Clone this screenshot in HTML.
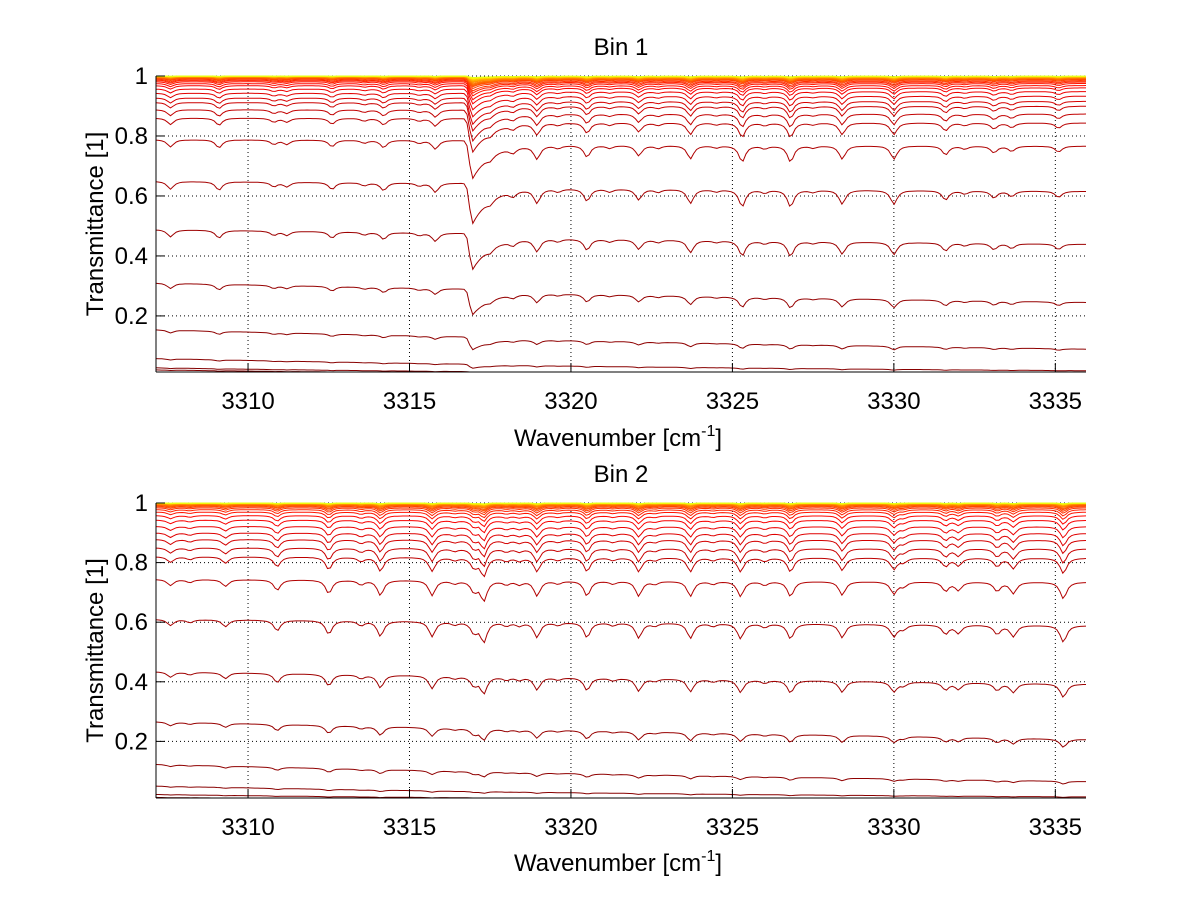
<!DOCTYPE html>
<html><head><meta charset="utf-8"><style>
html,body{margin:0;padding:0;background:#fff;}
svg{display:block;font-family:"Liberation Sans",Arial,sans-serif;}
</style></head><body>
<svg id="chart" width="1200" height="901" viewBox="0 0 1200 901" xmlns="http://www.w3.org/2000/svg">
<rect width="1200" height="901" fill="#fff"/>
</svg>
<script>
// ---- data ----
const xTicks = [3310, 3315, 3320, 3325, 3330, 3335];
const yTicks = [0.2, 0.4, 0.6, 0.8, 1];
const yTickLabels = ["0.2", "0.4", "0.6", "0.8", "1"];
const titles = ["Bin 1", "Bin 2"];
// left-edge transmittance level of each curve (lowest first)
const bin1Levels = [0.02, 0.027, 0.058, 0.154, 0.31, 0.488, 0.649, 0.788, 0.86, 0.888, 0.912, 0.927, 0.943, 0.957, 0.968, 0.975, 0.981, 0.985, 0.988, 0.991, 0.993, 0.994, 0.995, 0.996, 0.997, 0.9975, 0.998, 0.9985, 0.999, 0.9992, 0.9994, 0.9996, 0.9997, 0.9998];
const bin2Levels = [0.012, 0.022, 0.05, 0.123, 0.266, 0.434, 0.61, 0.744, 0.82, 0.85, 0.878, 0.9, 0.922, 0.943, 0.958, 0.97, 0.978, 0.984, 0.988, 0.991, 0.993, 0.995, 0.996, 0.997, 0.998, 0.9985, 0.999, 0.9992, 0.9994, 0.9996, 0.9997, 0.9998];
// absorption line centres and relative strengths
const bin1LinePos = [3307.6, 3309.1, 3310.8, 3311.2, 3312.6, 3313.6, 3314.2, 3315.3, 3315.8, 3317.5, 3318.2, 3318.95, 3319.6, 3320.5, 3321.2, 3322.1, 3322.7, 3323.7, 3324.5, 3325.3, 3326.0, 3326.8, 3327.5, 3328.4, 3330.0, 3331.6, 3332.2, 3333.1, 3333.65, 3335.1];
const bin1LineStr = [0.5, 0.55, 0.3, 0.3, 0.45, 0.2, 0.5, 0.2, 0.6, 0.3, 0.35, 0.9, 0.2, 0.8, 0.2, 0.7, 0.2, 0.9, 0.15, 1.1, 0.2, 1.1, 0.15, 0.9, 0.9, 0.6, 0.2, 0.45, 0.35, 0.4];
const bin1BroadPos = [3316.95];
const bin1BroadStr = [2.6];
const bin2LinePos = [3307.6, 3308.2, 3309.3, 3310.9, 3312.5, 3313.5, 3314.1, 3315.7, 3316.4, 3317.0, 3317.3, 3318.0, 3318.4, 3318.95, 3319.6, 3320.5, 3321.3, 3322.1, 3322.6, 3323.7, 3324.4, 3325.25, 3326.0, 3326.8, 3328.4, 3330.0, 3330.3, 3331.6, 3332.0, 3333.2, 3333.7, 3335.25];
const bin2LineStr = [0.4, 0.2, 0.45, 0.7, 0.9, 0.3, 1.0, 1.0, 0.2, 0.7, 1.3, 0.25, 0.25, 1.0, 0.2, 1.0, 0.2, 1.0, 0.2, 1.0, 0.2, 1.0, 0.25, 1.0, 0.9, 0.8, 0.3, 0.6, 0.55, 0.6, 0.75, 1.1];
const bin2BroadPos = [];
const bin2BroadStr = [];

// ---- layout ----
const NS = "http://www.w3.org/2000/svg";
const svg = document.getElementById("chart");
const X0 = 3307.15, X1 = 3335.95;
const panels = [
  {top: 76, bottom: 372, ymin: 0.013, levels: bin1Levels, pos: bin1LinePos, str: bin1LineStr, bpos: bin1BroadPos, bstr: bin1BroadStr, tickY: 409, xlabY: 446, titleY: 55},
  {top: 503, bottom: 798, ymin: 0.01, levels: bin2Levels, pos: bin2LinePos, str: bin2LineStr, bpos: bin2BroadPos, bstr: bin2BroadStr, tickY: 835, xlabY: 871, titleY: 482}
];
const L = 156, R = 1086;
const FS = 24;
function xs(v){ return L + (v - X0) / (X1 - X0) * (R - L); }
function mk(tag, attrs, parent){
  const e = document.createElementNS(NS, tag);
  for (const k in attrs) e.setAttribute(k, attrs[k]);
  (parent || svg).appendChild(e);
  return e;
}
function jet(v){
  const c = t => Math.max(0, Math.min(1, t));
  const r = c(1.5 - Math.abs(4*v - 3)), g = c(1.5 - Math.abs(4*v - 2)), b = c(1.5 - Math.abs(4*v - 1));
  return "rgb(" + Math.round(r*255) + "," + Math.round(g*255) + "," + Math.round(b*255) + ")";
}

panels.forEach((p, pi) => {
  const ys = v => p.top + (1 - v) / (1 - p.ymin) * (p.bottom - p.top);
  const g = mk("g", {});
  
  

  xTicks.forEach(t => {
    const l = mk("line", {x1: xs(t), x2: xs(t), y1: p.top, y2: p.bottom, stroke: "#000", "stroke-width": 1, "stroke-dasharray": "1 3"}, g);
    
    
  });
  yTicks.forEach(t => {
    const l = mk("line", {x1: L, x2: R, y1: ys(t), y2: ys(t), stroke: "#000", "stroke-width": 1, "stroke-dasharray": "1 3"}, g);
    
    
  });

  const N = p.levels.length;
  const cg = mk("g", {fill: "none", "stroke-width": 1, "stroke-linejoin": "miter"}, g);
  
  
  p.levels.forEach((L0, i) => {
    let d = "";
    for (let x = X0; x <= X1 + 1e-9; x += 0.09) {
      const lnL = Math.log(L0);
      const cont = Math.pow(L0, 1 + 0.005 * (-lnL) * (x - X0));
      let S = 0;
      for (let k = 0; k < p.pos.length; k++) {
        const dd = (x - p.pos[k]) / 0.12;
        S += p.str[k] / (1 + dd*dd);
      }
      for (let k = 0; k < p.bpos.length; k++) {
        const dx = x - p.bpos[k];
        S += p.bstr[k] * (dx < 0 ? Math.exp(-Math.pow(-dx/0.12, 2)) : (0.12 + 0.88*Math.exp(-dx/0.55)) );
      }
      const A = 0.135 * Math.sqrt(1 - cont);
      let T = cont * (1 - Math.min(0.9, A * S));
      T = Math.max(p.ymin, Math.min(1, T));
      d += (d ? "L" : "M") + xs(x).toFixed(1) + "," + ys(T).toFixed(1);
    }
    const col = jet(1 - 0.4 * Math.pow(i / (N - 1), 1.4));
    const path = mk("path", {d: d, stroke: col}, cg);
    
    
  });

  const ax = mk("line", {x1: L, x2: R, y1: p.bottom, y2: p.bottom, stroke: "#000", "stroke-width": 1}, g);
  
  
  const ay = mk("line", {x1: L, x2: L, y1: p.top, y2: p.bottom, stroke: "#000", "stroke-width": 1}, g);
  
  

  xTicks.forEach(t => {
    const tk = mk("line", {x1: xs(t), x2: xs(t), y1: p.bottom, y2: p.bottom - 9, stroke: "#000"}, g);
    
    
    const tx = mk("text", {x: xs(t), y: p.tickY, "text-anchor": "middle", "font-size": FS}, g);
    tx.textContent = String(t);
    
    
  });
  yTicks.forEach((t, k) => {
    const tk = mk("line", {x1: L, x2: L + 9, y1: ys(t), y2: ys(t), stroke: "#000"}, g);
    
    
    const tx = mk("text", {x: 148, y: ys(t) + 8, "text-anchor": "end", "font-size": FS}, g);
    tx.textContent = yTickLabels[k];
    
    
  });

  const title = mk("text", {x: 621, y: p.titleY, "text-anchor": "middle", "font-size": FS}, g);
  title.textContent = titles[pi];
  
  

  const xl = mk("text", {x: 618, y: p.xlabY, "text-anchor": "middle", "font-size": FS}, g);
  xl.innerHTML = 'Wavenumber [cm<tspan dy="-10" font-size="16">-1</tspan><tspan dy="10">]</tspan>';
  
  

  const cy = (p.top + p.bottom) / 2;
  const yl = mk("text", {x: 0, y: 0, "text-anchor": "middle", "font-size": FS, transform: "translate(103," + cy + ") rotate(-90)"}, g);
  yl.textContent = "Transmittance [1]";
  
  
});
</script>
</body></html>
